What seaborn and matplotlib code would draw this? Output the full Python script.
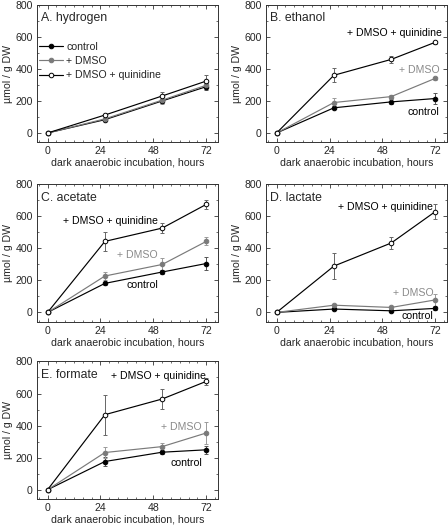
import numpy as np
import pandas as pd
import matplotlib
matplotlib.use("Agg")
import matplotlib.pyplot as plt
from matplotlib.ticker import MultipleLocator
from matplotlib.lines import Line2D
import seaborn as sns

#%% Data
hours = [0, 26, 52, 72]
panels = ["A. hydrogen", "B. ethanol", "C. acetate", "D. lactate", "E. formate"]
series = ["control", "+ DMSO", "+ DMSO + quinidine"]

h2_ctrl = [0, 83, 200, 289]
h2_dmso = [0, 88, 205, 298]
h2_quin = [0, 112, 231, 324]
h2_ctrl_err = [0, 8, 15, 22]
h2_dmso_err = [0, 8, 25, 25]
h2_quin_err = [0, 8, 22, 35]

eth_ctrl = [0, 157, 194, 215]
eth_dmso = [0, 190, 227, 341]
eth_quin = [0, 360, 459, 566]
eth_ctrl_err = [0, 10, 15, 35]
eth_dmso_err = [0, 30, 10, 8]
eth_quin_err = [0, 45, 20, 10]

ace_ctrl = [0, 181, 252, 305]
ace_dmso = [0, 227, 299, 443]
ace_quin = [0, 443, 526, 674]
ace_ctrl_err = [0, 10, 10, 40]
ace_dmso_err = [0, 25, 40, 25]
ace_quin_err = [0, 60, 30, 30]

lac_ctrl = [0, 21, 10, 25]
lac_dmso = [0, 45, 31, 78]
lac_quin = [0, 289, 433, 629]
lac_ctrl_err = [0, 5, 5, 8]
lac_dmso_err = [0, 10, 10, 35]
lac_quin_err = [0, 80, 35, 45]

for_ctrl = [0, 176, 234, 249]
for_dmso = [0, 232, 269, 354]
for_quin = [0, 468, 566, 676]
for_ctrl_err = [0, 25, 10, 25]
for_dmso_err = [0, 35, 20, 70]
for_quin_err = [0, 125, 65, 20]

values = [
    (h2_ctrl, h2_dmso, h2_quin),
    (eth_ctrl, eth_dmso, eth_quin),
    (ace_ctrl, ace_dmso, ace_quin),
    (lac_ctrl, lac_dmso, lac_quin),
    (for_ctrl, for_dmso, for_quin),
]
errors = [
    (h2_ctrl_err, h2_dmso_err, h2_quin_err),
    (eth_ctrl_err, eth_dmso_err, eth_quin_err),
    (ace_ctrl_err, ace_dmso_err, ace_quin_err),
    (lac_ctrl_err, lac_dmso_err, lac_quin_err),
    (for_ctrl_err, for_dmso_err, for_quin_err),
]

#%% Styling
sns.set_style("ticks")
plt.rcParams["font.family"] = ["Liberation Sans", "DejaVu Sans"]

line_col = {"control": "black", "+ DMSO": "#7a7a7a", "+ DMSO + quinidine": "black"}
face_col = {"control": "black", "+ DMSO": "#7a7a7a", "+ DMSO + quinidine": "white"}
err_col = {"control": "#555555", "+ DMSO": "#9a9a9a", "+ DMSO + quinidine": "#666666"}
text_col = {"control": "black", "+ DMSO": "#8a8a8a", "+ DMSO + quinidine": "black"}

# in-plot series labels (x, y in data units, right aligned)
label_pos = {
    1: [(74, 128), (74, 391), (75, 624)],
    2: [(50, 171), (50, 357), (50, 573)],
    3: [(71, -21), (71, 124), (71, 656)],
    4: [(70, 166), (70, 390), (72, 707)],
}

fig = plt.figure(figsize=(4.48, 5.26), dpi=100)
lefts = [0.0826, 0.5938]
bottoms = [0.7295, 0.3884, 0.0513]
w, h = 0.404, 0.2615

for i, name in enumerate(panels):
    ax = fig.add_axes([lefts[i % 2], bottoms[i // 2], w, h])
    for j, s in enumerate(series):
        df = pd.DataFrame({"hours": hours, "umol": values[i][j]})
        ax.errorbar(hours, values[i][j], yerr=errors[i][j], fmt="none",
                    ecolor=err_col[s], elinewidth=0.7, capsize=1.5, capthick=0.7, zorder=2)
        sns.lineplot(data=df, x="hours", y="umol", ax=ax, color=line_col[s],
                     marker="o", markersize=3.3, markerfacecolor=face_col[s],
                     markeredgecolor=line_col[s], markeredgewidth=0.7,
                     linewidth=0.85, zorder=3 + j)
    ax.set_xlim(-4.8, 77.3)
    ax.set_ylim(-58, 800)
    ax.xaxis.set_major_locator(MultipleLocator(24))
    ax.xaxis.set_minor_locator(MultipleLocator(4))
    ax.yaxis.set_major_locator(MultipleLocator(200))
    ax.yaxis.set_minor_locator(MultipleLocator(100))
    ax.tick_params(which="both", direction="in", top=True, right=True,
                   labelsize=7.6, color="#333333", pad=3)
    ax.tick_params(which="major", length=3, width=0.6)
    ax.tick_params(which="minor", length=1.5, width=0.5)
    for sp in ax.spines.values():
        sp.set_linewidth(0.7)
        sp.set_color("#333333")
    ax.set_xlabel("dark anaerobic incubation, hours", fontsize=7.6, labelpad=1)
    ax.set_ylabel("µmol / g DW", fontsize=7.6, labelpad=2)
    ax.text(0.022, 0.945, name, transform=ax.transAxes, fontsize=8.8,
            ha="left", va="top")

    if i == 0:
        handles = [Line2D([], [], color=line_col[s], marker="o", markersize=3.3,
                          markerfacecolor=face_col[s], markeredgecolor=line_col[s],
                          markeredgewidth=0.7, linewidth=0.85) for s in series]
        ax.legend(handles, series, loc="upper left", bbox_to_anchor=(0.0, 0.745),
                  frameon=False, fontsize=7.6, handlelength=2.3, handletextpad=0.25,
                  labelspacing=0.4, borderaxespad=0.1, borderpad=0.1)
    else:
        for j, s in enumerate(series):
            x, y = label_pos[i][j]
            ax.text(x, y, s, fontsize=7.6, color=text_col[s], ha="right", va="center")

fig.savefig("out.png", dpi=100)
